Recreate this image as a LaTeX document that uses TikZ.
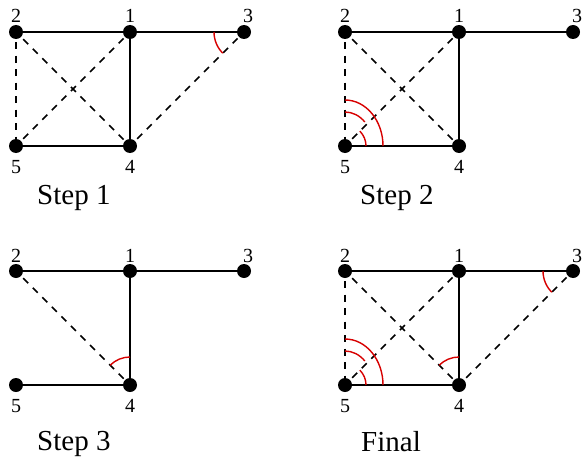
\documentclass[tikz,border=0pt]{standalone}
\usepackage{fontspec}
\setmainfont{Liberation Serif}
\definecolor{angred}{RGB}{215,0,0}
\newcommand\mypanel[6]{% prefix, dx, dy, caption, capx, capy
  \node[vtx] (#1v2) at ({#2+16},{#3+32}) {};
  \node[vtx] (#1v1) at ({#2+130},{#3+32}) {};
  \node[vtx] (#1v3) at ({#2+244},{#3+32}) {};
  \node[vtx] (#1v5) at ({#2+16},{#3+146}) {};
  \node[vtx] (#1v4) at ({#2+130},{#3+146}) {};
  \node[numlab] (#1l2) at ({#2+16},{#3+23}) {2};
  \node[numlab] (#1l1) at ({#2+130},{#3+23}) {1};
  \node[numlab] (#1l3) at ({#2+248},{#3+23}) {3};
  \node[numlab] (#1l5) at ({#2+16},{#3+173}) {5};
  \node[numlab] (#1l4) at ({#2+130},{#3+173}) {4};
  \node[steplab] (#1cap) at (#5,#6) {#4};
  \draw[solidedge] (#1v2) -- (#1v1);
  \draw[solidedge] (#1v1) -- (#1v3);
  \draw[solidedge] (#1v1) -- (#1v4);
  \draw[solidedge] (#1v5) -- (#1v4);
}
\begin{document}
\begin{tikzpicture}[x=1pt,y=-1pt,
  vtx/.style={circle,fill=black,inner sep=0pt,minimum size=14pt},
  solidedge/.style={line width=1.7pt},
  dashedge/.style={line width=1.7pt,dash pattern=on 7pt off 6.5pt,dash phase=-3pt},
  angmark/.style={line width=1.4pt,draw=angred},
  numlab/.style={font=\fontsize{20}{20}\selectfont,anchor=base,inner sep=0pt},
  steplab/.style={font=\fontsize{29}{29}\selectfont,anchor=base west,inner sep=0pt}]
\path[use as bounding box] (0,0) rectangle (583,460);

% Step 1
\mypanel{A}{0}{0}{Step 1}{37}{204}
\draw[dashedge] (Av2) -- (Av5);
\draw[dashedge] (Av2) -- (Av4);
\draw[dashedge] (Av5) -- (Av1);
\draw[dashedge] (Av4) -- (Av3);
\draw[angmark] (Av3.center) ++(180:30) arc[start angle=180,end angle=135,radius=30];

% Step 2
\mypanel{B}{329}{0}{Step 2}{360}{204}
\draw[dashedge] (Bv2) -- (Bv5);
\draw[dashedge] (Bv2) -- (Bv4);
\draw[dashedge] (Bv5) -- (Bv1);
\draw[angmark] (Bv5.center) ++(38,0) arc[start angle=0,end angle=-90,x radius=38,y radius=46];
\draw[angmark] (Bv5.center) ++({28*cos(-45)},{34*sin(-45)}) arc[start angle=-45,end angle=-90,x radius=28,y radius=34];
\draw[angmark] (Bv5.center) ++(21,0) arc[start angle=0,end angle=-45,radius=21];

% Step 3
\mypanel{C}{0}{239}{Step 3}{37}{450}
\draw[dashedge] (Cv2) -- (Cv4);
\draw[angmark] (Cv4.center) ++(-90:28) arc[start angle=-90,end angle=-135,radius=28];

% Final
\mypanel{D}{329}{239}{Final}{361}{451}
\draw[dashedge] (Dv2) -- (Dv5);
\draw[dashedge] (Dv2) -- (Dv4);
\draw[dashedge] (Dv5) -- (Dv1);
\draw[dashedge] (Dv4) -- (Dv3);
\draw[angmark] (Dv3.center) ++(180:30) arc[start angle=180,end angle=135,radius=30];
\draw[angmark] (Dv4.center) ++(-90:28) arc[start angle=-90,end angle=-135,radius=28];
\draw[angmark] (Dv5.center) ++(38,0) arc[start angle=0,end angle=-90,x radius=38,y radius=46];
\draw[angmark] (Dv5.center) ++({28*cos(-45)},{34*sin(-45)}) arc[start angle=-45,end angle=-90,x radius=28,y radius=34];
\draw[angmark] (Dv5.center) ++(21,0) arc[start angle=0,end angle=-45,radius=21];
\end{tikzpicture}
\end{document}
